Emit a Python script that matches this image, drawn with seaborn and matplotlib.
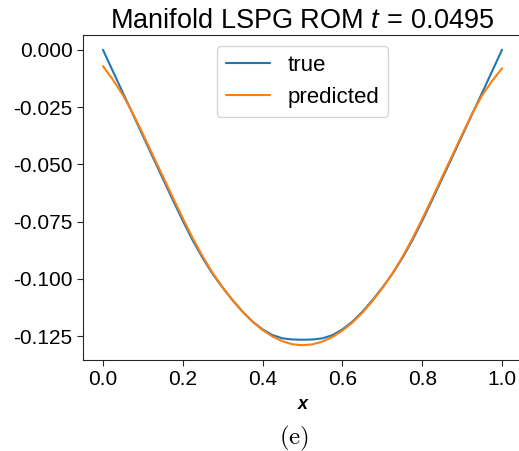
import numpy as np
import pandas as pd
import matplotlib
matplotlib.use("Agg")
import matplotlib.pyplot as plt
import seaborn as sns

# grid of x positions and solution values at t = 0.0495
x_grid = [0.000, 0.025, 0.050, 0.075, 0.100, 0.125, 0.150, 0.175, 0.200, 0.225,
          0.250, 0.275, 0.300, 0.325, 0.350, 0.375, 0.400, 0.425, 0.450, 0.475,
          0.500, 0.525, 0.550, 0.575, 0.600, 0.625, 0.650, 0.675, 0.700, 0.725,
          0.750, 0.775, 0.800, 0.825, 0.850, 0.875, 0.900, 0.925, 0.950, 0.975,
          1.000]

u_true = [0.0000, -0.0094, -0.0188, -0.0281, -0.0375, -0.0469, -0.0562, -0.0655,
          -0.0746, -0.0832, -0.0909, -0.0978, -0.1038, -0.1093, -0.1143, -0.1186,
          -0.1220, -0.1245, -0.1259, -0.1264, -0.1265, -0.1264, -0.1259, -0.1245,
          -0.1220, -0.1186, -0.1143, -0.1093, -0.1038, -0.0978, -0.0909, -0.0832,
          -0.0746, -0.0655, -0.0562, -0.0469, -0.0375, -0.0281, -0.0188, -0.0094,
          0.0000]

u_pred = [-0.0071, -0.0131, -0.0198, -0.0278, -0.0367, -0.0460, -0.0552, -0.0644,
          -0.0735, -0.0822, -0.0902, -0.0974, -0.1037, -0.1093, -0.1143, -0.1187,
          -0.1223, -0.1251, -0.1272, -0.1285, -0.1289, -0.1285, -0.1273, -0.1253,
          -0.1225, -0.1190, -0.1147, -0.1097, -0.1040, -0.0977, -0.0905, -0.0825,
          -0.0738, -0.0647, -0.0554, -0.0462, -0.0369, -0.0279, -0.0199, -0.0136,
          -0.0081]

series_names = ["true", "predicted"]
title_text = r"Manifold LSPG ROM $t\,=\,0.0495$"

df = pd.concat([
    pd.DataFrame({"x": x_grid, "u": u_true, "series": series_names[0]}),
    pd.DataFrame({"x": x_grid, "u": u_pred, "series": series_names[1]}),
], ignore_index=True)

sns.set_style("ticks")
plt.rcParams["font.family"] = ["Liberation Sans", "DejaVu Sans"]
plt.rcParams["mathtext.fontset"] = "custom"
plt.rcParams["mathtext.rm"] = "Liberation Sans"
plt.rcParams["mathtext.it"] = "Liberation Sans:italic"
plt.rcParams["mathtext.bf"] = "Liberation Sans:bold"
plt.rcParams["text.color"] = "black"
plt.rcParams["xtick.labelcolor"] = "black"
plt.rcParams["ytick.labelcolor"] = "black"
plt.rcParams["axes.labelcolor"] = "black"

fig = plt.figure(figsize=(5.19, 4.51), dpi=100)
ax = fig.add_axes([83 / 519, 1 - 360 / 451, (522 - 83) / 519, (360 - 35) / 451])

sns.lineplot(data=df, x="x", y="u", hue="series", hue_order=series_names,
             palette=["#1f77b4", "#ff7f0e"], linewidth=1.5, ax=ax, legend=True)

ax.set_xticks([0.0, 0.2, 0.4, 0.6, 0.8, 1.0])
ax.set_yticks([0.000, -0.025, -0.050, -0.075, -0.100, -0.125])
ax.yaxis.set_major_formatter(matplotlib.ticker.FormatStrFormatter("%.3f"))
ax.xaxis.set_major_formatter(matplotlib.ticker.FormatStrFormatter("%.1f"))
ax.tick_params(labelsize=15, length=4)
ax.set_xlabel("x", fontsize=13, fontstyle="italic", fontweight="bold",
              labelpad=5)
ax.set_ylabel("")
ax.set_title(title_text, fontsize=19.5, pad=5)

leg = ax.legend(loc="upper center", fontsize=16, frameon=True,
                borderaxespad=0.5)
leg.set_title(None)

fig.text(0.567, 1 - 438 / 451, r"$\mathrm{(e)}$", fontsize=18,
         math_fontfamily="cm", ha="center", va="center")

fig.savefig("out.png", dpi=100)
